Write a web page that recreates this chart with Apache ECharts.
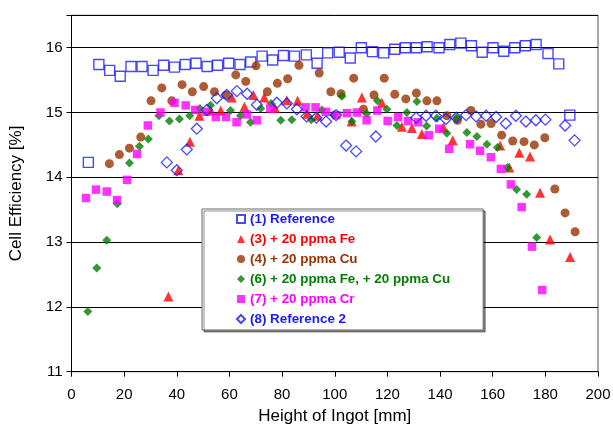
<!DOCTYPE html>
<html>
<head>
<meta charset="utf-8">
<script src="https://cdn.jsdelivr.net/npm/echarts@6/dist/echarts.min.js"></script>
<style>
html,body{margin:0;padding:0;background:#fff;}
#chart{width:613px;height:426px;}
</style>
</head>
<body>
<div id="chart"></div>
<script>
const seriesNames = ['(1) Reference', '(3) + 20 ppma Fe', '(4) + 20 ppma Cu', '(6) + 20 ppma Fe, + 20 ppma Cu', '(7) + 20 ppma Cr', '(8) Reference 2'];
const xTicks = [0, 20, 40, 60, 80, 100, 120, 140, 160, 180, 200];
const yTicks = [11, 12, 13, 14, 15, 16];

const ref1 = [[6.4,14.23],[10.4,15.74],[14.5,15.65],[18.5,15.56],[22.6,15.71],[26.8,15.71],[31.0,15.65],[35.0,15.73],[39.1,15.70],[43.2,15.74],[47.3,15.76],[51.5,15.71],[55.5,15.73],[59.7,15.76],[64.0,15.74],[68.1,15.78],[72.4,15.87],[76.4,15.81],[80.5,15.88],[84.7,15.87],[89.2,15.89],[93.3,15.76],[97.3,15.92],[101.7,15.93],[105.9,15.84],[110.1,16.0],[114.3,15.94],[118.6,15.92],[122.8,15.975],[126.8,16.0],[131.0,16.0],[135.1,16.015],[139.6,16.0],[143.7,16.05],[147.9,16.07],[151.9,16.03],[156.0,15.93],[160.1,16.0],[164.2,15.945],[168.4,16.0],[172.4,16.03],[176.5,16.05],[181.0,15.91],[185.1,15.75],[189.3,14.96]];
const fe3 = [[36.8,12.16],[40.6,14.11],[45.0,14.55],[48.6,14.95],[52.9,15.03],[56.7,15.03],[60.9,15.23],[65.7,15.09],[69.1,15.27],[73.2,15.23],[77.3,15.07],[81.8,15.19],[85.9,15.18],[89.5,14.98],[93.4,14.95],[106.4,14.86],[110.3,15.23],[117.9,15.15],[125.5,14.78],[129.3,14.76],[133.1,14.67],[141.3,14.77],[144.8,14.57],[162.8,14.49],[166.3,14.15],[170.1,14.38],[174.2,14.32],[178.0,13.76],[181.8,13.04],[189.4,12.77]];
const cu4 = [[14.4,14.21],[18.2,14.35],[22.0,14.45],[26.3,14.62],[30.2,15.18],[34.3,15.38],[38.1,15.18],[42.0,15.43],[45.9,15.32],[50.2,15.40],[54.3,15.32],[58.7,15.27],[62.4,15.58],[66.2,15.48],[70.1,15.72],[74.4,15.32],[78.2,15.45],[82.1,15.52],[86.4,15.73],[94.1,15.61],[98.5,15.32],[102.4,15.29],[107.2,15.53],[110.9,15.05],[114.9,15.27],[118.8,15.53],[122.8,15.28],[127.0,15.21],[131.0,15.30],[135.0,15.18],[138.8,15.18],[142.6,14.95],[146.6,14.88],[151.7,15.03],[155.5,14.82],[159.4,14.83],[163.4,14.65],[167.6,14.56],[171.9,14.55],[175.8,14.50],[179.8,14.61],[183.6,13.82],[187.5,13.45],[191.3,13.16]];
const feCu6 = [[6.2,11.93],[9.6,12.60],[13.4,13.03],[17.4,13.59],[22.0,14.22],[25.8,14.48],[29.2,14.59],[33.2,14.95],[37.2,14.87],[41.0,14.90],[44.9,14.95],[48.8,15.06],[52.8,15.11],[60.4,15.03],[64.2,14.95],[68.0,14.85],[71.9,15.06],[75.8,15.14],[79.5,14.88],[83.7,14.89],[91.1,14.89],[95.1,15.04],[99.5,14.96],[102.7,15.25],[106.5,14.86],[112.1,14.98],[116.2,15.18],[119.8,15.05],[123.6,14.80],[127.4,15.00],[131.2,15.17],[134.9,14.79],[138.8,14.91],[142.6,14.68],[146.3,14.92],[150.2,14.69],[154.0,14.63],[157.8,14.51],[161.8,14.46],[165.6,14.15],[169.1,13.81],[172.9,13.74],[176.7,13.07]];
const cr7 = [[5.5,13.68],[9.3,13.81],[13.4,13.78],[17.3,13.65],[21.1,13.96],[24.9,14.36],[29.0,14.80],[33.8,15.0],[39.1,15.15],[43.4,15.11],[47.0,15.04],[51.0,15.01],[54.8,14.93],[58.7,14.93],[62.7,14.85],[66.6,14.97],[70.4,14.88],[75.5,15.06],[88.9,15.08],[92.7,15.08],[96.7,15.01],[100.6,14.96],[104.6,14.99],[108.4,15.0],[112.1,14.88],[116.2,15.03],[120.1,14.87],[124.1,14.93],[127.9,14.87],[131.7,14.85],[135.7,14.65],[139.7,14.75],[143.5,14.44],[151.4,14.51],[155.2,14.41],[159.3,14.31],[163.1,14.13],[166.9,13.89],[171.0,13.54],[174.9,12.93],[178.8,12.26]];
const ref8 = [[36.2,14.23],[40.0,14.11],[43.8,14.43],[47.6,14.75],[51.4,15.04],[55.2,15.22],[59.0,15.27],[62.8,15.33],[66.7,15.29],[70.4,15.12],[78.0,15.15],[81.8,15.14],[85.6,15.05],[89.3,14.94],[93.0,14.92],[96.7,14.86],[100.5,14.96],[104.3,14.49],[108.1,14.40],[115.6,14.63],[130.9,14.92],[134.7,14.95],[138.4,14.95],[142.2,14.90],[146.2,14.92],[149.9,14.96],[153.7,14.94],[157.5,14.95],[161.3,14.93],[165.0,14.83],[168.8,14.95],[172.6,14.86],[176.4,14.88],[180.0,14.89],[187.5,14.80],[191.1,14.57]];

const font = 'Liberation Sans, Arial, sans-serif';
const colors = ['#1a1aff', '#ff0000', '#993300', '#008000', '#ff00ff', '#1a1aff'];

const chart = echarts.init(document.getElementById('chart'), null, {renderer: 'canvas'});
const option = {
  animation: false,
  backgroundColor: '#fff',
  grid: {left: 71.5, right: 15, top: 15.3, bottom: 54.3, containLabel: false, outerBoundsMode: 'none',
    show: true, borderColor: '#555', borderWidth: 1, backgroundColor: 'transparent'},
  xAxis: {
    type: 'value', min: xTicks[0], max: xTicks[xTicks.length - 1], interval: 20,
    name: 'Height of Ingot [mm]', nameLocation: 'middle', nameGap: 35,
    nameTextStyle: {fontFamily: font, fontSize: 17, color: '#000'},
    axisLine: {show: true, lineStyle: {color: '#000', width: 1}},
    axisTick: {show: true, inside: false, length: 5, lineStyle: {color: '#000'}},
    axisLabel: {fontFamily: font, fontSize: 15, color: '#000', margin: 16},
    splitLine: {show: false}
  },
  yAxis: {
    type: 'value', min: 11, max: 16.5, interval: 1,
    name: 'Cell Efficiency [%]', nameLocation: 'middle', nameGap: 47,
    nameTextStyle: {fontFamily: font, fontSize: 17, color: '#000'},
    axisLine: {show: true, lineStyle: {color: '#000', width: 1}},
    axisTick: {show: true, inside: false, length: 5, lineStyle: {color: '#000'}},
    axisLabel: {fontFamily: font, fontSize: 15, color: '#000', margin: 9,
      formatter: v => (yTicks.indexOf(v) >= 0 ? String(v) : '')},
    splitLine: {show: true, lineStyle: {color: '#000', width: 1}}
  },
  legend: {
    orient: 'vertical', left: 202, top: 209,
    backgroundColor: '#fff', borderColor: '#666', borderWidth: 1,
    shadowColor: 'rgba(0,0,0,0.45)', shadowOffsetX: 2, shadowOffsetY: 2, shadowBlur: 0,
    padding: [3, 33, 4, 34], itemGap: 6, itemWidth: 8, itemHeight: 8,
    textStyle: {fontFamily: font, fontSize: 13.4, fontWeight: 'bold', lineHeight: 14},
    data: seriesNames.map((n, i) => ({name: n, textStyle: {color: colors[i]}}))
  },
  series: [
    {name: seriesNames[0], type: 'scatter', data: ref1, symbol: 'rect', symbolSize: 10,
      itemStyle: {color: 'rgba(255,255,255,0)', borderColor: colors[0], borderWidth: 1.4}},
    {name: seriesNames[1], type: 'scatter', data: fe3, symbol: 'triangle', symbolSize: 10,
      itemStyle: {color: colors[1]}},
    {name: seriesNames[2], type: 'scatter', data: cu4, symbol: 'circle', symbolSize: 9,
      itemStyle: {color: colors[2]}},
    {name: seriesNames[3], type: 'scatter', data: feCu6, symbol: 'diamond', symbolSize: 9,
      itemStyle: {color: colors[3]}},
    {name: seriesNames[4], type: 'scatter', data: cr7, symbol: 'rect', symbolSize: 8.5,
      itemStyle: {color: colors[4]}},
    {name: seriesNames[5], type: 'scatter', data: ref8, symbol: 'diamond', symbolSize: 11,
      itemStyle: {color: 'rgba(255,255,255,0)', borderColor: colors[5], borderWidth: 1.3}}
  ]
};
chart.setOption(option);
</script>
</body>
</html>
